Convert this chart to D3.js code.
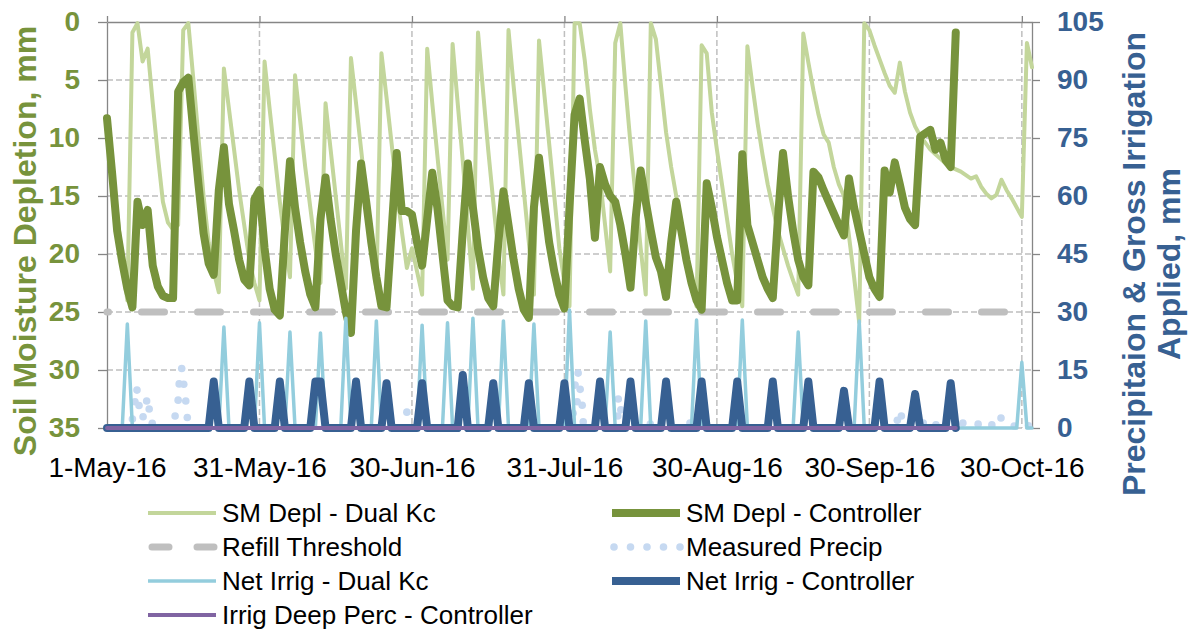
<!DOCTYPE html>
<html>
<head>
<meta charset="utf-8">
<script src="https://cdn.jsdelivr.net/npm/d3@7"></script>
<style>
  body { margin: 0; background: #fff; }
  svg { display: block; }
  text { font-family: Arial, "Liberation Sans", sans-serif; }
</style>
</head>
<body>
<div id="chart"></div>
<script>
// x axis: day index from 1-May-16
const xTickDays = [0, 30, 60, 90, 120, 150, 180];
const xTickLabels = ["1-May-16", "31-May-16", "30-Jun-16", "31-Jul-16", "30-Aug-16", "30-Sep-16", "30-Oct-16"];
const leftTicks = [0, 5, 10, 15, 20, 25, 30, 35];
const rightTicks = [0, 15, 30, 45, 60, 75, 90, 105];

// SM Depl - Dual Kc (mm), one value per day 0..182
const dualKcDepl = [8.3, 12.5, 16.5, 20.5, 24, 0.9, 0.1, 3.4, 2.3, 7, 11.5, 15.5, 17.3, 17.9, 17.5, 0.7, 0.1, 5, 10, 15,
  19, 21.5, 23.3, 4, 7.5, 11, 14.5, 17.5, 20.5, 22.5, 24, 3.4, 7.5, 11.5, 15.5, 19, 22, 4.6, 8.5, 12.5,
  16, 19.5, 22.5, 7, 11, 15, 19, 23, 3.1, 7, 11, 15, 19, 23, 2.7, 6.5, 10.5, 14.5, 18, 21.2,
  19.5, 21.5, 23.5, 2.3, 7, 11.5, 16, 20.5, 1.9, 7, 12, 17.5, 23, 0.9, 6, 11, 15.5, 20, 23.5, 0.7,
  5.5, 10, 14.5, 19, 23.5, 1.6, 6, 10.5, 15, 19.5, 22.5, 24.5, 0.1, 0.1, 3.3, 7.5, 11, 13.5, 17.5, 21.5,
  1.8, 0.1, 5.5, 10.5, 15, 19.5, 23.5, 0.1, 1.5, 5.5, 9.5, 12.5, 15, 17.5, 20, 22.5, 24.5, 2, 2.7, 7.8,
  11, 14, 17, 20, 22.5, 24.5, 2.1, 5.5, 8.7, 11.5, 14, 16, 18, 19.5, 21, 22.3, 23.5, 1, 3.5, 5.9,
  8, 9.7, 10.4, 12.5, 14, 15, 18.5, 22, 25.9, 0.1, 0.7, 2, 3.2, 4.4, 5.5, 6.1, 3.5, 6, 7.8, 9,
  9.8, 10.4, 11, 11.4, 11.8, 12.2, 12.5, 12.7, 12.9, 13.2, 13.5, 13.3, 14.2, 14.8, 15.2, 14.9, 13.6, 14.5, 15.2, 16,
  16.8, 1.8, 3.9];

// SM Depl - Controller (mm), one value per day 0..167
const controllerDepl = [8.3, 13, 18, 20.7, 23, 24.6, 15.5, 17.5, 16.2, 21, 22.8, 23.6, 23.8, 23.8, 6, 5.2, 4.8, 9.5, 14, 18.2,
  20.8, 21.8, 14.5, 10.8, 15.7, 18, 20.5, 22.2, 22.7, 15.3, 14.5, 19.5, 23, 24.8, 25.3, 18, 12, 16, 19, 21.5,
  23.5, 24.6, 17, 13.4, 17, 20, 22.5, 25, 26.8, 18, 12.2, 15.5, 19, 22, 24.5, 24.6, 18, 11.3, 16.3, 16.3,
  16.6, 19, 21, 17, 13, 16, 20, 24, 24.5, 24.6, 18, 12.2, 16, 19.5, 22, 23.8, 24.5, 19, 14.6, 17.5,
  20.5, 23, 24.8, 25.5, 16, 11.7, 15.5, 19, 21.5, 23.5, 24.7, 16, 8, 6.6, 10.2, 13.5, 18.6, 12.5, 14, 15,
  15.5, 17.5, 20, 22.9, 17, 12.8, 15.5, 18, 20.3, 21.5, 23.7, 19, 15.5, 18, 20.5, 22.5, 24, 24.8, 13.9, 16,
  18.5, 20.5, 22.5, 24, 24, 11.4, 17.5, 19, 20.5, 22, 23, 23.8, 17, 11.3, 15, 18, 20.5, 22, 22.7, 12.9,
  13.4, 14.5, 15.5, 16.5, 17.5, 18.4, 13.5, 16, 18, 20, 22, 23, 23.7, 12.8, 14.7, 12.1, 14, 16, 17, 17.5,
  9.9, 9.6, 9.3, 11, 10.4, 11.9, 12.5, 0.9];

// Refill Threshold (mm)
const refillThreshold = 25;

// Measured Precip (mm): day of reading and amount
const precipDay = [5.0, 5.5, 5.9, 6.3, 7.1, 7.8, 8.3, 8.9, 13.4, 14.0, 14.2, 14.7, 15.1, 15.5, 15.8, 59,
  91.7, 92.1, 92.5, 92.7, 93.1, 93.5, 93.7, 100.5, 100.6, 101.1, 106.9, 114.7,
  155.5, 156.3, 160.6, 163.1, 168.4, 171.4, 174.1, 175.9, 178.5, 181.3];
const precipMm = [2.3, 6.8, 9.8, 5.8, 2.9, 7.0, 4.9, 1.2, 3.1, 7.2, 11.4, 15.4, 11.3, 7.0, 2.7, 4.1,
  3.8, 11.1, 6.8, 14.2, 10, 5.9, 1.6, 3.1, 7.5, 4.7, 1, 1.3,
  2, 3.1, 1.3, 0.8, 1.3, 1, 0.8, 2.6, 0.5, 0.6];

// Net Irrig - Dual Kc (mm): irrigation days and depths, 0 on all other days 0..182
const dualIrrigDay = [4, 23, 30, 36, 42, 47, 53, 62, 67, 72, 78, 84, 91, 99, 106, 116, 125, 136, 148, 180];
const dualIrrigMm = [26.9, 26.1, 27.2, 24.8, 24.6, 28.4, 27.7, 26.6, 27.2, 28.4, 27.7, 26.9, 30.5, 24.8, 27.7, 27.9, 27.9, 24.8, 27.7, 17];

// Net Irrig - Controller (mm): irrigation days and depths, 0 on all other days 0..167
const ctrlIrrigDay = [21, 28, 34, 41, 42, 49, 55, 62, 70, 76, 83, 90, 97, 103, 110, 117, 124, 131, 138, 145, 152, 159, 166];
const ctrlIrrigMm = [12, 12, 12, 12, 12, 12, 11.6, 11.6, 13.7, 11.6, 11.6, 11.6, 12, 12, 12, 12, 12, 12, 12, 9.6, 12, 8.8, 11.6];

// Irrig Deep Perc - Controller (mm)
const deepPercDay = [0, 167];
const deepPercMm = [0, 0];

const legendItems = [
  { name: "SM Depl - Dual Kc", col: 0, row: 0, type: "line", color: "#C3D69B", width: 4 },
  { name: "SM Depl - Controller", col: 1, row: 0, type: "line", color: "#77933C", width: 8 },
  { name: "Refill Threshold", col: 0, row: 1, type: "dash", color: "#BFBFBF", width: 7 },
  { name: "Measured Precip", col: 1, row: 1, type: "dots", color: "#C6D9F1" },
  { name: "Net Irrig - Dual Kc", col: 0, row: 2, type: "line", color: "#93CDDD", width: 3.5 },
  { name: "Net Irrig - Controller", col: 1, row: 2, type: "line", color: "#376092", width: 8 },
  { name: "Irrig Deep Perc - Controller", col: 0, row: 3, type: "line", color: "#8064A2", width: 4 }
];

const W = 1194, H = 635;
const svg = d3.select("#chart").append("svg").attr("width", W).attr("height", H);

const x = d3.scaleLinear().domain([0, 182]).range([107, 1032]);
const yL = d3.scaleLinear().domain([0, 35]).range([22, 428]);
const yR = d3.scaleLinear().domain([0, 105]).range([428, 22]);

const axisColor = "#868686";
const gridColor = "#BFBFBF";

// gridlines
const grid = svg.append("g");
grid.selectAll(".hg").data(leftTicks.slice(1)).enter().append("line")
  .attr("x1", x(0)).attr("x2", x(182))
  .attr("y1", d => yL(d)).attr("y2", d => yL(d))
  .attr("stroke", gridColor).attr("stroke-width", 1.5).attr("stroke-dasharray", "6,3");
grid.selectAll(".vg").data(xTickDays.slice(1)).enter().append("line")
  .attr("x1", d => x(d)).attr("x2", d => x(d))
  .attr("y1", yL(0)).attr("y2", yL(35))
  .attr("stroke", gridColor).attr("stroke-width", 1.5).attr("stroke-dasharray", "6,3");

// axes
function styleAxis(g) {
  g.select(".domain").attr("stroke", axisColor).attr("stroke-width", 1.3);
  g.selectAll(".tick line").attr("stroke", axisColor).attr("stroke-width", 1.3);
}

const leftAxis = svg.append("g")
  .attr("transform", `translate(${x(0)},0)`)
  .call(d3.axisLeft(yL).tickValues(leftTicks).tickSize(9).tickSizeOuter(0).tickPadding(18));
styleAxis(leftAxis);
leftAxis.selectAll("text").attr("font-size", 28).attr("font-weight", "bold").attr("fill", "#77933C")
  .style("font-family", "Arial, 'Liberation Sans', sans-serif");

const rightAxis = svg.append("g")
  .attr("transform", `translate(${x(182)},0)`)
  .call(d3.axisRight(yR).tickValues(rightTicks).tickSize(8).tickSizeOuter(0).tickPadding(17));
styleAxis(rightAxis);
rightAxis.selectAll("text").attr("font-size", 28).attr("font-weight", "bold").attr("fill", "#376092")
  .style("font-family", "Arial, 'Liberation Sans', sans-serif");

const topAxis = svg.append("g")
  .attr("transform", `translate(0,${yL(0)})`)
  .call(d3.axisTop(x).tickValues(xTickDays).tickSize(6).tickSizeOuter(0).tickFormat(""));
styleAxis(topAxis);

const bottomAxis = svg.append("g")
  .attr("transform", `translate(0,${yL(35)})`)
  .call(d3.axisBottom(x).tickValues(xTickDays).tickSize(0).tickPadding(29)
    .tickFormat((d, i) => xTickLabels[i]));
bottomAxis.select(".domain").remove();
bottomAxis.selectAll("text").attr("font-size", 28).attr("fill", "#000")
  .style("font-family", "Arial, 'Liberation Sans', sans-serif");

// axis titles
svg.append("text")
  .attr("transform", "translate(36,241) rotate(-90)")
  .attr("text-anchor", "middle")
  .attr("font-size", 32).attr("font-weight", "bold").attr("fill", "#77933C")
  .text("Soil Moisture Depletion, mm");

const rt = svg.append("text")
  .attr("transform", "translate(1145,264) rotate(-90)")
  .attr("text-anchor", "middle")
  .attr("font-size", 32).attr("font-weight", "bold").attr("fill", "#376092");
rt.append("tspan").attr("x", 0).attr("y", 0).text("Precipitaion & Gross Irrigation");
rt.append("tspan").attr("x", 0).attr("y", 35).text("Applied, mm");

// series
const lineL = d3.line().x(d => x(d[0])).y(d => yL(d[1]));
const lineR = d3.line().x(d => x(d[0])).y(d => yR(d[1]));

function drawPath(data, gen, color, width) {
  svg.append("path").datum(data)
    .attr("d", gen)
    .attr("fill", "none")
    .attr("stroke", color)
    .attr("stroke-width", width)
    .attr("stroke-linejoin", "round")
    .attr("stroke-linecap", "round");
}

// refill threshold
svg.append("line")
  .attr("x1", x(0)).attr("x2", x(182))
  .attr("y1", yL(refillThreshold)).attr("y2", yL(refillThreshold))
  .attr("stroke", "#BFBFBF").attr("stroke-width", 7)
  .attr("stroke-linecap", "round")
  .attr("stroke-dasharray", "23,33").attr("stroke-dashoffset", 21.5);

drawPath(dualKcDepl.map((v, i) => [i, v]), lineL, "#C3D69B", 4);
drawPath(controllerDepl.map((v, i) => [i, v]), lineL, "#77933C", 8);

// measured precip dots
svg.append("g").selectAll("circle")
  .data(precipDay.map((d, i) => [d, precipMm[i]]))
  .enter().append("circle")
  .attr("cx", d => x(d[0])).attr("cy", d => yR(d[1])).attr("r", 3.8)
  .attr("fill", "#C6D9F1");

// net irrigation daily tables
const dualIrrig = d3.range(0, 183).map(d => {
  const k = dualIrrigDay.indexOf(d);
  return [d, k >= 0 ? dualIrrigMm[k] : 0];
});
const ctrlIrrig = d3.range(0, 168).map(d => {
  const k = ctrlIrrigDay.indexOf(d);
  return [d, k >= 0 ? ctrlIrrigMm[k] : 0];
});
drawPath(dualIrrig, lineR, "#93CDDD", 3.5);
drawPath(ctrlIrrig, lineR, "#376092", 8);
drawPath(deepPercDay.map((d, i) => [d, deepPercMm[i]]), lineR, "#8064A2", 4);

// legend
const legend = svg.append("g");
const colX = [148, 612];
const rowY = [513, 547, 581, 615];
legendItems.forEach(it => {
  const x0 = colX[it.col], y0 = rowY[it.row];
  const g = legend.append("g");
  if (it.type === "line") {
    g.append("line").attr("x1", x0).attr("x2", x0 + 68).attr("y1", y0).attr("y2", y0)
      .attr("stroke", it.color).attr("stroke-width", it.width);
  } else if (it.type === "dash") {
    g.append("line").attr("x1", x0 + 4).attr("x2", x0 + 68).attr("y1", y0).attr("y2", y0)
      .attr("stroke", it.color).attr("stroke-width", it.width)
      .attr("stroke-linecap", "round").attr("stroke-dasharray", "17,28");
  } else {
    g.selectAll("circle").data([0, 1, 2, 3, 4]).enter().append("circle")
      .attr("cx", k => x0 + 2 + k * 16.5).attr("cy", y0).attr("r", 3.8)
      .attr("fill", it.color);
  }
  g.append("text").attr("x", x0 + 74).attr("y", y0).attr("dy", "0.35em")
    .attr("font-size", 26).attr("fill", "#000").text(it.name);
});
</script>
</body>
</html>
